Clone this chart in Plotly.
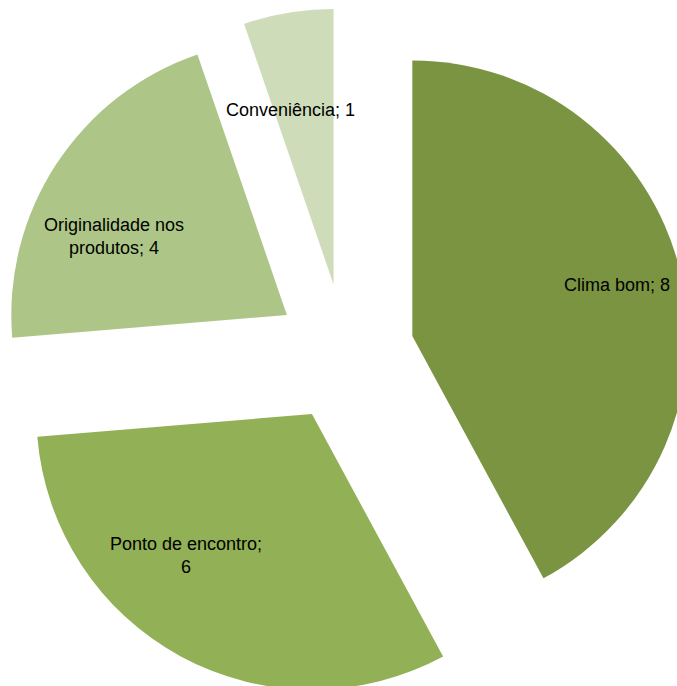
import plotly.graph_objects as go

# Data
categories = ["Clima bom", "Ponto de encontro", "Originalidade nos produtos", "Conveniência"]
values = [8, 6, 4, 1]
label_lines = [["Clima bom; 8"], ["Ponto de encontro;", "6"], ["Originalidade nos", "produtos; 4"], ["Conveniência; 1"]]

# Styling
colors = ["#7A9442", "#92B056", "#ADC687", "#CEDCBA"]
pull = 0.252
W, H = 690, 698
TOP = 8
PLOT = 690  # square plot area

# label anchor points in pixels (page coordinates)
label_px = [(617, 285), (186, 555), (114, 236), (290, 110)]

fig = go.Figure(
    go.Pie(
        labels=categories,
        values=values,
        sort=False,
        direction="clockwise",
        rotation=0,
        pull=[pull] * len(values),
        marker=dict(colors=colors, line=dict(width=0)),
        textinfo="none",
        hoverinfo="label+value",
        showlegend=False,
        domain=dict(x=[0, 1], y=[0, 1]),
    )
)

for lines, (px, py) in zip(label_lines, label_px):
    fig.add_annotation(
        x=px / W,
        y=1 - (py - TOP) / PLOT,
        xref="paper",
        yref="paper",
        text="<br>".join(lines),
        showarrow=False,
        xanchor="center",
        yanchor="middle",
        align="center",
        font=dict(family="Liberation Sans, Arial, sans-serif", size=18, color="#000000"),
    )

fig.update_layout(
    width=W,
    height=H,
    autosize=False,
    margin=dict(l=0, r=0, t=TOP, b=0, pad=0),
    paper_bgcolor="white",
    plot_bgcolor="white",
)

fig.write_html(
    "out.html",
    config={"displayModeBar": False},
    post_script="document.documentElement.style.overflow='hidden';document.body.style.overflow='hidden';document.body.style.margin='0';",
)
